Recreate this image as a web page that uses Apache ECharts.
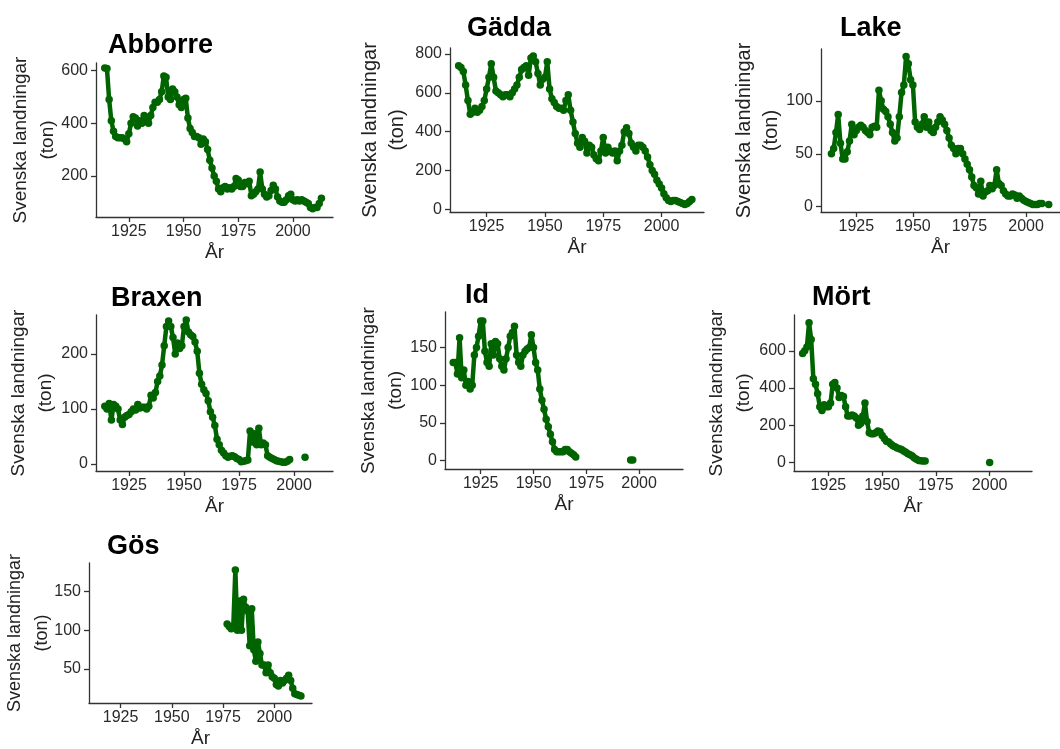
<!DOCTYPE html>
<html><head><meta charset="utf-8">
<script src="https://cdn.jsdelivr.net/npm/echarts@6/dist/echarts.min.js"></script>
<style>html,body{margin:0;padding:0;background:#fff}#c{width:1060px;height:749px}</style>
</head><body><div id="c"></div>
<script>
// ---- Data (Svenska landningar, ton) ----
const xTicks = [1925, 1950, 1975, 2000];

const abborreStart = 1914;
const abborre = [610,608,490,410,370,350,345,345,345,340,
  330,360,400,425,420,390,410,400,430,420,
  400,430,460,480,480,490,520,580,575,500,
  490,530,520,500,470,460,490,495,420,380,
  365,350,350,345,320,340,330,300,260,230,
  200,180,150,140,155,160,150,155,150,160,
  190,185,160,160,175,170,180,125,130,140,
  150,215,150,130,120,125,145,165,150,120,
  105,100,100,110,125,130,110,105,110,105,
  110,105,100,95,80,75,80,80,95,115];
const abborreTicks = [200, 400, 600];

const gaddaStart = 1913;
const gadda = [740,730,710,640,560,490,500,520,500,510,
  530,560,620,680,750,680,610,600,590,580,
  590,590,580,600,620,640,680,720,730,740,
  690,780,790,760,700,640,670,680,760,620,
  570,550,530,520,520,510,560,590,510,450,
  390,340,320,370,350,290,330,320,280,260,
  250,300,370,290,320,300,290,300,250,300,
  330,400,420,390,340,320,300,330,330,320,
  300,270,230,200,180,150,130,110,80,60,
  45,40,45,45,40,35,30,25,30,40,50];
const gaddaTicks = [0, 200, 400, 600, 800];

const lakeStart = 1914;
const lake = [50,55,70,87,60,45,45,52,62,78,
  68,72,75,77,75,72,70,68,75,76,
  75,110,100,92,90,85,78,70,62,65,
  85,108,115,142,135,120,115,80,75,73,
  78,85,75,80,72,70,75,80,85,82,
  78,72,65,58,55,50,55,55,50,45,
  40,35,28,20,18,12,24,10,14,15,
  20,17,20,35,22,20,15,12,10,10,
  12,11,8,10,8,6,5,4,3,2,
  2,2,3,3,null,null,2];
const lakeTicks = [0, 50, 100];

const braxenStart = 1914;
const braxen = [105,100,110,80,108,105,100,80,72,85,
  88,90,95,100,98,108,102,103,103,100,
  105,125,120,130,150,160,180,215,250,260,
  250,230,200,220,210,215,250,262,240,235,
  232,222,205,165,145,135,128,115,95,85,
  70,45,35,25,20,15,12,14,15,13,
  10,8,4,5,6,7,60,40,55,35,
  65,35,38,35,15,12,10,8,6,5,
  4,3,3,5,8,
  null,null,null,null,null,null,
  12];
const braxenTicks = [0, 100, 200];

const idStart = 1912;
const idFish = [130,130,115,163,110,120,100,105,95,100,
  140,150,165,185,185,145,130,125,155,140,
  158,155,135,125,120,135,150,165,170,178,
  140,130,125,140,145,148,150,167,150,130,
  120,95,80,68,55,45,35,25,15,12,
  12,12,12,15,15,12,10,8,5,
  null,null,null,null,null,null,null,null,null,null,
  null,null,null,null,null,null,null,null,null,null,
  null,null,null,null,null,
  1,1];
const idTicks = [0, 50, 100, 150];

const mortStart = 1913;
const mort = [585,600,620,750,660,450,420,370,300,280,
  310,300,300,320,420,430,400,350,360,355,
  300,250,250,255,250,240,200,210,250,320,
  220,160,155,155,160,170,165,145,130,115,
  110,100,90,85,78,75,70,62,55,48,
  42,35,25,18,12,10,8,8,
  null,null,null,null,null,null,null,null,null,null,
  null,null,null,null,null,null,null,null,null,null,
  null,null,null,null,null,null,null,null,null,
  0];
const mortTicks = [0, 200, 400, 600];

const gosStart = 1977;
const gos = [108,105,102,105,178,100,138,100,140,130,
  125,80,128,75,60,85,70,55,55,45,
  55,45,40,38,30,28,35,32,35,38,
  42,35,25,18,17,16,15];
const gosTicks = [50, 100, 150];

// ---- Layout (pixel positions of each panel) ----
const panels = [
  {name:'Abborre', start:abborreStart, vals:abborre, yt:abborreTicks, left:96, top:63, w:237, h:154, xmin:1910, xmax:2018.3, ymin:44, ymax:629, tl:108, tt:32, nf:19, ng:35},
  {name:'Gädda', start:gaddaStart, vals:gadda, yt:gaddaTicks, left:450, top:48, w:254, h:164, xmin:1909.3, xmax:2018.2, ymin:-14, ymax:831, tl:467, tt:15, nf:20, ng:39},
  {name:'Lake', start:lakeStart, vals:lake, yt:lakeTicks, left:821, top:49, w:245, h:163, xmin:1909.4, xmax:2015, ymin:-5, ymax:149, tl:840, tt:15, nf:20, ng:36},
  {name:'Braxen', start:braxenStart, vals:braxen, yt:braxenTicks, left:96, top:315, w:237, h:156, xmin:1910, xmax:2017.7, ymin:-12.8, ymax:271, tl:111, tt:285, nf:19, ng:37},
  {name:'Id', start:idStart, vals:idFish, yt:idTicks, left:445, top:312, w:238, h:157, xmin:1908.1, xmax:2020.8, ymin:-11, ymax:197, tl:465, tt:282, nf:19, ng:36},
  {name:'Mört', start:mortStart, vals:mort, yt:mortTicks, left:794, top:315, w:238, h:156, xmin:1909, xmax:2019.7, ymin:-45, ymax:792, tl:812, tt:284, nf:19, ng:36.5},
  {name:'Gös', start:gosStart, vals:gos, yt:gosTicks, left:89, top:563, w:223, h:144, xmin:1909.6, xmax:2018.4, ymin:6, ymax:187, tl:107, tt:533, nf:18, ng:33}
];

const axisColor = '#333';
const lineColor = '#006400';
const fontFam = '"Liberation Sans", Arial, sans-serif';

const option = {
  animation: false,
  backgroundColor: '#fff',
  textStyle: {fontFamily: fontFam},
  title: panels.map(p => ({
    text: p.name, left: p.tl, top: p.tt, padding: 0,
    textStyle: {fontSize: 27, fontWeight: 'bold', color: '#000', fontFamily: fontFam}
  })),
  grid: panels.map(p => ({left: p.left, top: p.top, width: p.w, height: p.h, containLabel: false})),
  xAxis: panels.map((p, i) => ({
    type: 'value', gridIndex: i, min: p.xmin, max: p.xmax,
    name: 'År', nameLocation: 'middle', nameGap: 26, nameMoveOverlap: false,
    nameTextStyle: {fontSize: 19, color: '#222', fontFamily: fontFam},
    axisLine: {show: true, onZero: false, lineStyle: {color: axisColor, width: 1.3}},
    axisTick: {show: true, length: 5, customValues: xTicks, lineStyle: {color: axisColor, width: 1.3}},
    axisLabel: {customValues: xTicks, fontSize: 16, color: '#2a2a2a', margin: 7, formatter: v => String(v), fontFamily: fontFam},
    splitLine: {show: false}
  })),
  yAxis: panels.map((p, i) => ({
    type: 'value', gridIndex: i, min: p.ymin, max: p.ymax,
    name: 'Svenska landningar\n(ton)', nameLocation: 'middle', nameRotate: 90, nameGap: p.ng, nameMoveOverlap: false,
    nameTextStyle: {fontSize: p.nf, lineHeight: 27, color: '#222', fontFamily: fontFam, align: 'center'},
    axisLine: {show: true, onZero: false, lineStyle: {color: axisColor, width: 1.3}},
    axisTick: {show: true, length: 5, customValues: p.yt, lineStyle: {color: axisColor, width: 1.3}},
    axisLabel: {customValues: p.yt, fontSize: 16, color: '#2a2a2a', margin: 8, formatter: v => String(v), fontFamily: fontFam},
    splitLine: {show: false}
  })),
  series: panels.map((p, i) => ({
    type: 'line', name: p.name, xAxisIndex: i, yAxisIndex: i,
    data: p.vals.map((v, j) => [p.start + j, v === null ? '-' : v]),
    connectNulls: false, showSymbol: true, showAllSymbol: true,
    symbol: 'circle', symbolSize: 7.5,
    lineStyle: {color: lineColor, width: 4.5, cap: 'round', join: 'round'},
    itemStyle: {color: lineColor},
    clip: false
  }))
};

const chart = echarts.init(document.getElementById('c'), null, {renderer: 'canvas'});
chart.setOption(option);
</script>
</body></html>
